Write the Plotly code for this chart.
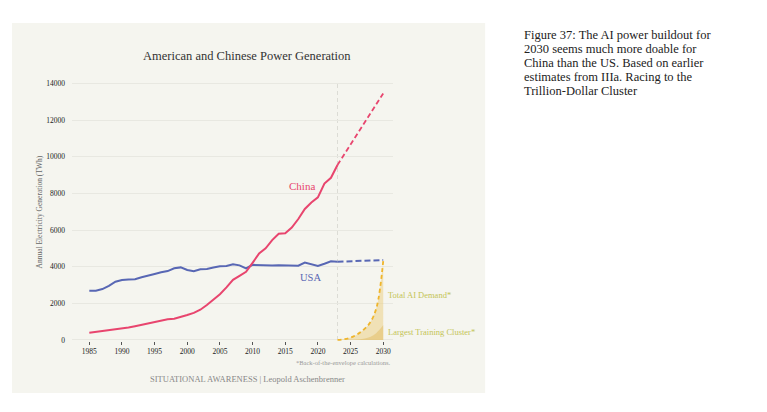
import plotly.graph_objects as go

# ---- data ----
years = list(range(1985, 2024))

china_twh = [400, 440, 490, 540, 580, 620, 680, 750, 830, 920,
             1000, 1080, 1130, 1160, 1240, 1360, 1480, 1650, 1910, 2200,
             2500, 2870, 3280, 3500, 3720, 4210, 4720, 5000, 5450, 5800,
             5820, 6130, 6600, 7150, 7500, 7780, 8530, 8850, 9550]

usa_twh = [2690, 2690, 2780, 2950, 3180, 3270, 3300, 3310, 3420, 3490,
           3600, 3690, 3760, 3910, 3960, 3820, 3750, 3860, 3870, 3950,
           4020, 4040, 4130, 4070, 3910, 4100, 4080, 4040, 4060, 4080,
           4080, 4070, 4050, 4220, 4150, 4040, 4160, 4290, 4270]

proj_years = [2023, 2030]
china_proj = [9550, 13450]
usa_proj = [4270, 4360]

ai_years = list(range(2023, 2031))
total_ai_demand = [10, 40, 130, 300, 560, 950, 1800, 4300]
largest_cluster = [0, 3, 10, 30, 70, 170, 400, 800]

x_ticks = [1985, 1990, 1995, 2000, 2005, 2010, 2015, 2020, 2025, 2030]
y_ticks = [0, 2000, 4000, 6000, 8000, 10000, 12000, 14000]

caption_lines = ["Figure 37: The AI power buildout for",
                 "2030 seems much more doable for",
                 "China than the US. Based on earlier",
                 "estimates from IIIa. Racing to the",
                 "Trillion-Dollar Cluster"]

pink = "#e8456e"
blue = "#5867b4"
gold = "#efb52c"
serif = "Liberation Serif, Times New Roman, serif"

fig = go.Figure()

# AI demand areas
fig.add_trace(go.Scatter(x=ai_years, y=total_ai_demand, mode="lines",
                         line=dict(color=gold, width=1.8, dash="4px,3px", shape="spline"),
                         fill="tozeroy", fillcolor="rgba(236,205,125,0.5)",
                         hoverinfo="skip"))
fig.add_trace(go.Scatter(x=ai_years, y=largest_cluster, mode="lines",
                         line=dict(width=0, shape="spline"),
                         fill="tozeroy", fillcolor="rgba(225,188,95,0.5)",
                         hoverinfo="skip"))

# history
fig.add_trace(go.Scatter(x=years, y=usa_twh, mode="lines",
                         line=dict(color=blue, width=2)))
fig.add_trace(go.Scatter(x=years, y=china_twh, mode="lines",
                         line=dict(color=pink, width=2)))
# projections
fig.add_trace(go.Scatter(x=proj_years, y=usa_proj, mode="lines",
                         line=dict(color=blue, width=2, dash="6px,3px")))
fig.add_trace(go.Scatter(x=proj_years, y=china_proj, mode="lines",
                         line=dict(color=pink, width=1.8, dash="5px,3px")))

# beige panel behind everything
fig.add_shape(type="rect", xref="paper", yref="paper",
              x0=-0.187, x1=1.287, y0=-0.198, y1=1.209,
              fillcolor="#f5f5ef", line_width=0, layer="below")
# 2023 divider
fig.add_shape(type="line", xref="x", yref="y", x0=2023, x1=2023, y0=0, y1=14100,
              line=dict(color="#dcdcd5", width=1, dash="4px,3px"), layer="below")

ann = [
    dict(text="American and Chinese Power Generation", x=0.545, y=1.085,
         xref="paper", yref="paper", font=dict(size=12.5, color="#333")),
    dict(text="Annual Electricity Generation (TWh)", x=-0.1, y=0.492,
         xref="paper", yref="paper", textangle=-90, font=dict(size=7.5, color="#666")),
    dict(text="China", x=2017.5, y=8420, xref="x", yref="y",
         font=dict(size=11, color=pink)),
    dict(text="USA", x=2018.8, y=3420, xref="x", yref="y",
         font=dict(size=10.5, color=blue)),
    dict(text="Total AI Demand*", x=2030.5, y=2450, xref="x", yref="y",
         xanchor="left", font=dict(size=8.5, color="#c4c455")),
    dict(text="Largest Training Cluster*", x=2030.5, y=450, xref="x", yref="y",
         xanchor="left", font=dict(size=8.5, color="#c4c455")),
    dict(text="*Back-of-the-envelope calculations.", x=1.0, y=-0.083,
         xref="paper", yref="paper", xanchor="right", font=dict(size=6.5, color="#999")),
    dict(text="SITUATIONAL AWARENESS | Leopold Aschenbrenner", x=0.548, y=-0.1445,
         xref="paper", yref="paper", font=dict(size=8.5, color="#888")),
]
for i, line in enumerate(caption_lines):
    ann.append(dict(text=line, x=1.401, y=(341 - 35 - 14 * i) / 263,
                    xref="paper", yref="paper", xanchor="left",
                    font=dict(size=12.5, color="#222")))
for a in ann:
    a["showarrow"] = False
    a.setdefault("xanchor", "center")
    a["yanchor"] = "middle"
    fig.add_annotation(**a)

# page body adds an 8px offset, so margins are shifted by that much
fig.update_layout(
    width=767, height=412,
    margin=dict(l=64, r=382, t=70, b=79),
    paper_bgcolor="white", plot_bgcolor="rgba(0,0,0,0)",
    showlegend=False,
    font=dict(family=serif, color="#333"),
    xaxis=dict(range=[1982.35, 2031.5], tickvals=x_ticks, showgrid=False,
               zeroline=False, showline=False, ticks="outside", ticklen=3,
               tickcolor="#555", tickfont=dict(size=7.5, color="#222")),
    yaxis=dict(range=[-55, 14292], tickvals=y_ticks,
               ticktext=[str(v) for v in y_ticks], showgrid=True,
               gridcolor="#e8e8e1", gridwidth=1, zeroline=False, showline=False,
               tickfont=dict(size=7.5, color="#222"), ticklabelstandoff=6),
)

fig.write_html("out.html")
